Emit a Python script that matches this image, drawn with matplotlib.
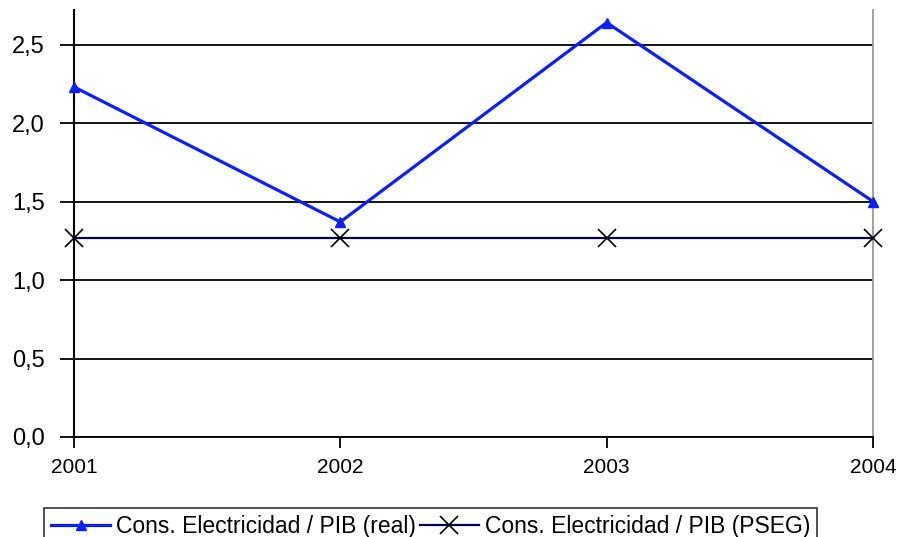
import matplotlib
matplotlib.use("Agg")
import matplotlib.pyplot as plt
from matplotlib.ticker import FuncFormatter

years = ["2001", "2002", "2003", "2004"]
real = [2.23, 1.37, 2.64, 1.50]
pseg = [1.27, 1.27, 1.27, 1.27]
yticks = [0.0, 0.5, 1.0, 1.5, 2.0, 2.5]
labels = ["Cons. Electricidad / PIB (real)", "Cons. Electricidad / PIB (PSEG)"]

plt.rcParams["font.family"] = ["Liberation Sans", "DejaVu Sans"]

fig = plt.figure(figsize=(9.02, 5.37), dpi=100)
ax = fig.add_axes([74 / 902, 1 - 437 / 537, (873 - 74) / 902, (437 - 10) / 537])

x = list(range(len(years)))
ax.plot(x, real, color="#0a1eff", lw=2.3, marker="^", ms=7, label=labels[0],
        zorder=3, clip_on=False)
ax.plot(x, pseg, color="#000050", lw=1.6, marker="x", ms=13, mew=1.2,
        mec="black", label=labels[1], zorder=3, clip_on=False)

ax.set_xlim(0, 3)
ax.set_ylim(0, 2.72)
ax.set_xticks(x)
ax.set_xticklabels(years)
ax.set_yticks(yticks)
ax.yaxis.set_major_formatter(FuncFormatter(lambda v, p: f"{v:.1f}".replace(".", ",")))

ax.grid(axis="y", color="black", lw=1.3)
ax.set_axisbelow(True)
ax.spines["top"].set_visible(False)
ax.spines["left"].set_color("black")
ax.spines["left"].set_linewidth(1.5)
ax.spines["bottom"].set_color("black")
ax.spines["bottom"].set_linewidth(1.3)
ax.spines["right"].set_color("#999999")
ax.spines["right"].set_linewidth(1.3)

ax.tick_params(axis="y", length=10, width=1.3, labelsize=17, pad=11, color="black")
ax.tick_params(axis="x", length=8, width=1.3, labelsize=15, pad=7, color="black")

leg = fig.legend(loc="upper left", bbox_to_anchor=(44 / 902, 1 - 508 / 537),
                 ncol=2, fontsize=16.5, frameon=True, fancybox=False,
                 edgecolor="black", handlelength=2.6, handletextpad=0.25,
                 columnspacing=0.15, borderpad=0.3, borderaxespad=0)
leg.get_frame().set_linewidth(1.2)

fig.savefig("out.png", dpi=100)
